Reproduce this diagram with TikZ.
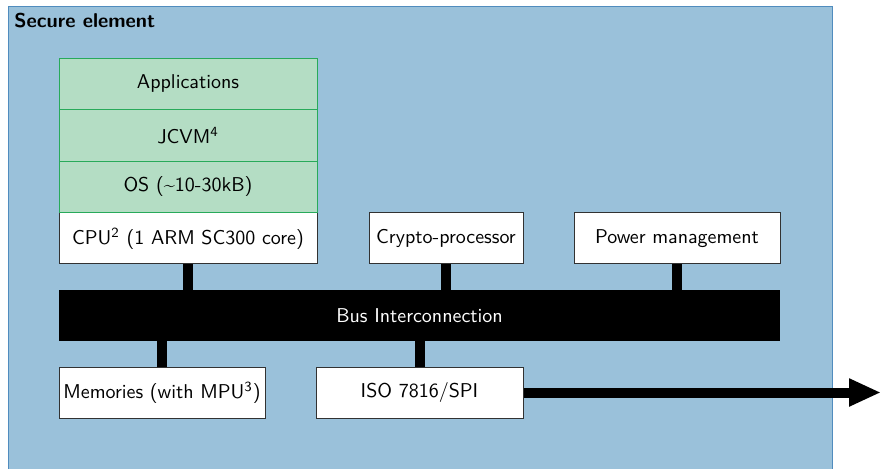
\documentclass[tikz,border=0pt]{standalone}
\usetikzlibrary{arrows.meta}
\definecolor{sebg}{RGB}{154,193,218}
\definecolor{seborder}{RGB}{80,140,190}
\definecolor{swfill}{RGB}{180,221,196}
\definecolor{swborder}{RGB}{40,170,90}
\definecolor{boxborder}{RGB}{50,50,50}
\begin{document}
\begin{tikzpicture}[x=0.5pt,y=-0.5pt,font=\sffamily,
  hwbox/.style={draw=boxborder,line width=0.5pt,fill=white,minimum height=25.5pt,inner sep=0pt},
  swbox/.style={draw=swborder,line width=0.5pt,fill=swfill,minimum width=129pt,minimum height=25.75pt,inner sep=0pt},
  buslink/.style={line width=5pt,draw=black}]
\useasboundingbox (0,0) rectangle (881,469);
\fill[sebg,draw=seborder,line width=0.5pt] (8,7) rectangle (832,480);
\node[anchor=west,inner sep=0pt,font=\sffamily\bfseries] (title) at (14,21) {Secure element};
\node[hwbox,minimum width=129pt] (cpu) at (188,238.5) {CPU\textsuperscript{2} (1 ARM SC300 core)};
\node[swbox] (apps) at (188,84) {Applications};
\node[swbox] (jcvm) at (188,135.5) {JCVM\textsuperscript{4}};
\node[swbox] (os) at (188,187) {OS (\textasciitilde10-30kB)};
\node[hwbox,minimum width=77pt] (crypto) at (446,238.5) {Crypto-processor};
\node[hwbox,minimum width=103pt] (power) at (677,238.5) {Power management};
\node[fill=black,text=white,minimum width=360.5pt,minimum height=25.5pt,inner sep=0pt] (bus) at (419.5,315.5) {Bus Interconnection};
\node[hwbox,minimum width=103pt] (mem) at (162,392.5) {Memories (with MPU\textsuperscript{3})};
\node[hwbox,minimum width=103.5pt] (iso) at (419.5,392.5) {ISO 7816/SPI};
\coordinate (out) at (881,392.5);
\draw[buslink] (cpu.south) -- (cpu.south |- bus.north);
\draw[buslink] (crypto.south) -- (crypto.south |- bus.north);
\draw[buslink] (power.south) -- (power.south |- bus.north);
\draw[buslink] (mem.north) -- (mem.north |- bus.south);
\draw[buslink] (iso.north) -- (iso.north |- bus.south);
\draw[line width=5pt,-{Triangle[length=16pt,width=13pt]}] (iso.east) -- (out);
\end{tikzpicture}
\end{document}
